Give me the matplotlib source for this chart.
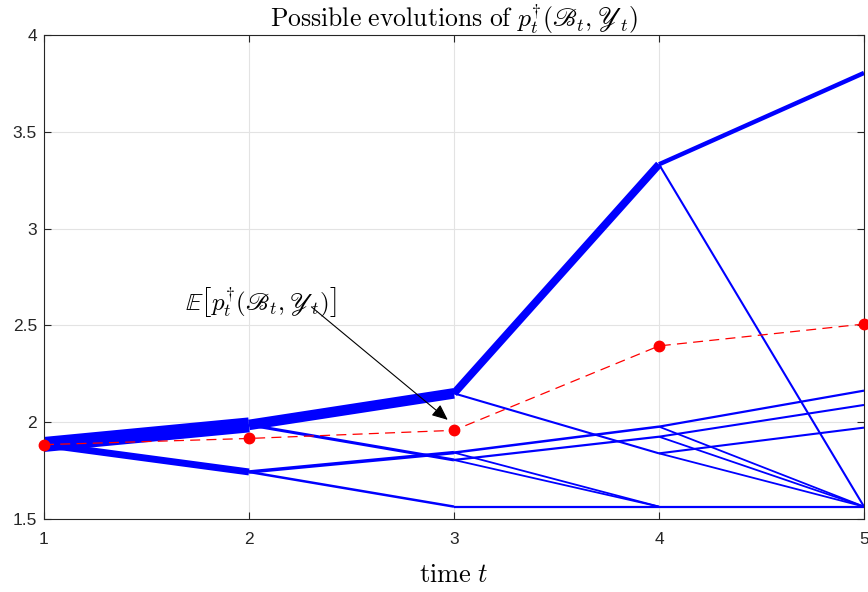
import matplotlib
matplotlib.use("Agg")
import matplotlib.pyplot as plt
import numpy as np

# tree edges: start time, value at start, value at end, line weight (pt)
edge_t0 = [1, 1,
           2, 2, 2, 2,
           3, 3, 3, 3, 3, 3, 3,
           4, 4, 4, 4, 4, 4, 4, 4, 4]
edge_y0 = [1.885, 1.885,
           1.986, 1.986, 1.743, 1.743,
           2.149, 2.149, 1.843, 1.843, 1.805, 1.805, 1.564,
           3.332, 3.332, 1.977, 1.977, 1.925, 1.925, 1.839, 1.839, 1.564]
edge_y1 = [1.986, 1.743,
           2.149, 1.805, 1.843, 1.564,
           3.332, 1.839, 1.977, 1.564, 1.925, 1.564, 1.564,
           3.804, 1.564, 2.163, 1.564, 2.089, 1.564, 1.972, 1.564, 1.564]
edge_w = [10.8, 5.0,
          7.6, 2.2, 2.5, 1.8,
          5.6, 1.5, 1.8, 1.3, 1.6, 1.3, 1.6,
          3.2, 1.5, 1.6, 1.3, 1.5, 1.3, 1.5, 1.3, 1.6]

times = [1, 2, 3, 4, 5]
expected = [1.884, 1.916, 1.958, 2.394, 2.507]

plt.rcParams['mathtext.fontset'] = 'cm'
plt.rcParams['font.family'] = ['Liberation Sans', 'DejaVu Sans']

fig = plt.figure(figsize=(8.68, 5.92), dpi=100)
ax = fig.add_axes([44 / 868, 73 / 592, 820 / 868, 484 / 592])

for t0, y0, y1, w in zip(edge_t0, edge_y0, edge_y1, edge_w):
    ax.plot([t0, t0 + 1], [y0, y1], color='#0000ff', lw=w, solid_capstyle='butt', zorder=2)

ax.plot(times, expected, color='#ff0000', lw=0.9, ls=(0, (8, 5)), marker='o',
        markersize=7.5, markerfacecolor='#ff0000', markeredgecolor='#ff0000', zorder=3,
        clip_on=False)

ax.text(1.688, 2.621, r'$\mathbb{E}\left[p_t^{\dagger}(\mathscr{B}_t,\mathscr{Y}_t)\right]$',
        fontsize=18, ha='left', va='center', zorder=5)
ax.annotate('', xy=(2.98, 2.003), xytext=(2.294, 2.605),
            arrowprops=dict(arrowstyle='-|>,head_length=0.8,head_width=0.35',
                            color='black', lw=0.8, mutation_scale=12), zorder=5)

ax.set_xlim(1, 5)
ax.set_ylim(1.5, 4)
ax.set_xticks([1, 2, 3, 4, 5])
ax.set_yticks([1.5, 2, 2.5, 3, 3.5, 4])
ax.set_yticklabels(['1.5', '2', '2.5', '3', '3.5', '4'])
ax.grid(True, color='#e3e3e3', lw=0.8, zorder=0)
ax.set_axisbelow(True)
ax.tick_params(direction='in', top=True, right=True, length=5, width=0.8,
               colors='#262626', labelsize=12.5)
ax.tick_params(axis='x', pad=9)
ax.tick_params(axis='y', pad=5)
for s in ax.spines.values():
    s.set_color('#262626')
    s.set_linewidth(0.8)

ax.set_title(r'$\mathrm{Possible\ evolutions\ of\ }p_t^{\dagger}(\mathscr{B}_t,\mathscr{Y}_t)$',
             fontsize=18.5, pad=6)
ax.set_xlabel(r'$\mathrm{time\ }t$', fontsize=19, labelpad=12)

fig.savefig('out.png', dpi=100)
